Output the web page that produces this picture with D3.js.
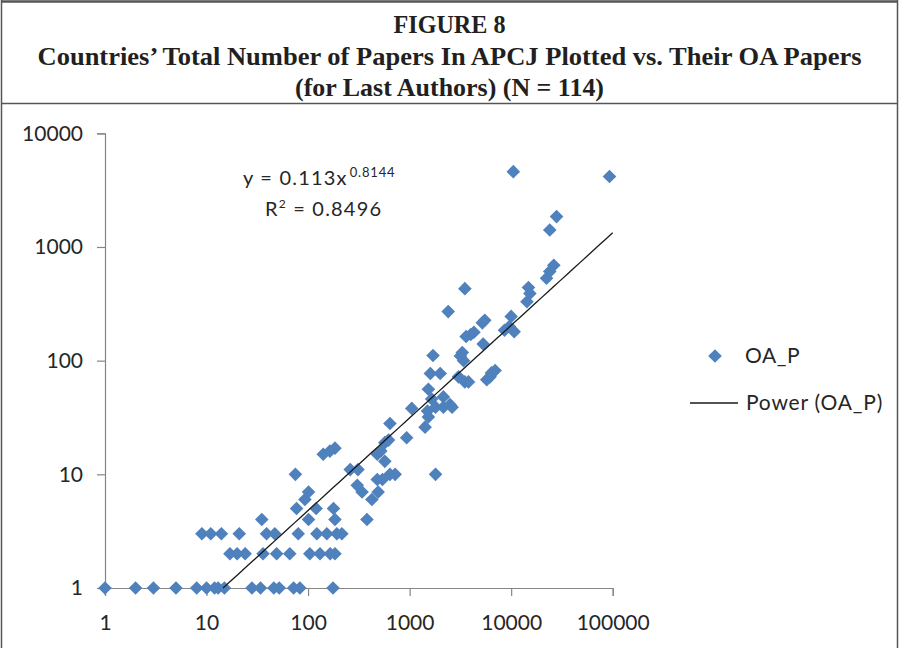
<!DOCTYPE html>
<html>
<head>
<meta charset="utf-8">
<script src="https://cdn.jsdelivr.net/npm/d3@7"></script>
<style>
  html, body { margin: 0; padding: 0; background: #fff; }
  svg { display: block; }
</style>
</head>
<body>
<svg id="chart" width="899" height="648"></svg>
<script>
// ---- data ----
const titleLines = ["FIGURE 8",
  "Countries\u2019 Total Number of Papers In APCJ Plotted vs. Their OA Papers",
  "(for Last Authors) (N = 114)"];

// total number of papers (x) per country
const totalPapers = [
  1, 2, 3, 5, 8, 10, 12, 13, 15, 28, 34, 46, 52, 72, 83, 176,
  17, 20, 24, 36, 49, 66, 104, 131, 165, 184,
  9, 11, 14, 21, 39, 47, 80, 122, 153, 192, 215,
  35, 101, 184, 380,
  77, 120, 178,
  93, 425,
  101, 340, 490,
  305,
  480, 540,
  75, 640, 720, 1800,
  260, 310,
  570,
  141, 164, 184, 480, 520,
  570, 620, 935,
  640, 1420,
  1530, 1050, 1800, 2150, 2500, 2620, 1500,
  2150, 1530, 1650,
  1600, 2000, 3030, 3500, 3800, 5750, 6950, 6400, 6200,
  1700, 3160, 3400, 3300,
  5300, 3600, 4300, 8600, 10700, 10000, 9600, 4000,
  5500, 5200,
  2400,
  14300, 15300, 14800, 3500,
  22300, 24000, 26300,
  24000, 28000,
  10500, 93000
];
// OA papers (y) per country
const oaPapers = [
  1, 1, 1, 1, 1, 1, 1, 1, 1, 1, 1, 1, 1, 1, 1, 1,
  2, 2, 2, 2, 2, 2, 2, 2, 2, 2,
  3, 3, 3, 3, 3, 3, 3, 3, 3, 3, 3,
  4, 4, 4, 4,
  5, 5, 5,
  6, 6,
  7, 7, 7,
  8,
  9, 9,
  10, 10, 10, 10,
  11, 11,
  13,
  15, 16, 17, 15, 16,
  19, 20, 21,
  28, 26,
  32, 38, 39, 39, 41, 39, 36,
  48, 56, 46,
  77, 77, 72, 65, 65, 68, 82, 78, 72,
  111, 110, 100, 118,
  140, 163, 178, 185, 180, 245, 200, 170,
  227, 215,
  270,
  330, 390, 440, 430,
  530, 610, 690,
  1410, 1850,
  4600, 4170
];

const xTicks = [1, 10, 100, 1000, 10000, 100000];
const yTicks = [1, 10, 100, 1000, 10000];
const trendCoef = [0.113, 0.8144];   // y = a * x^b
const rSquared = 0.8496;
const seriesName = "OA_P";
const trendName = "Power (OA_P)";

// ---- drawing ----
const svg = d3.select("#chart");
const blue = "#4F81BD";
const axisGray = "#868686";

// frame
svg.append("rect").attr("x", 0).attr("y", 0).attr("width", 899).attr("height", 648).attr("fill", "#fff");
svg.append("line").attr("x1", 1).attr("x2", 898).attr("y1", 1.5).attr("y2", 1.5)
  .attr("stroke", "#555").attr("stroke-width", 2.5);
svg.append("line").attr("x1", 1.5).attr("x2", 1.5).attr("y1", 0).attr("y2", 648)
  .attr("stroke", "#555").attr("stroke-width", 1.5);
svg.append("line").attr("x1", 897.5).attr("x2", 897.5).attr("y1", 0).attr("y2", 648)
  .attr("stroke", "#555").attr("stroke-width", 1.5);
svg.append("line").attr("x1", 1).attr("x2", 898).attr("y1", 103.5).attr("y2", 103.5)
  .attr("stroke", "#555").attr("stroke-width", 1.5);

// title
const titleY = [33, 65, 96];
const titleW = [112, 824, 309];
titleLines.forEach((t, i) => {
  svg.append("text")
    .attr("x", 449.5).attr("y", titleY[i])
    .attr("text-anchor", "middle")
    .attr("font-family", "'Liberation Serif', 'Times New Roman', serif")
    .attr("font-weight", "bold")
    .attr("font-size", 25)
    .attr("textLength", titleW[i])
    .attr("lengthAdjust", "spacingAndGlyphs")
    .attr("fill", "#231f20")
    .text(t);
});

const x = d3.scaleLog().domain([1, 100000]).range([105, 612.7]);
const y = d3.scaleLog().domain([1, 10000]).range([588, 133.3]);

const fontFam = "Lato, 'Open Sans', sans-serif";
const textCol = "#262626";

// axes
const yAxis = svg.append("g").attr("transform", "translate(105,0)")
  .call(d3.axisLeft(y).tickValues(yTicks).tickFormat(d3.format("d")).tickSize(8).tickPadding(14));
const xAxis = svg.append("g").attr("transform", "translate(0,588)")
  .call(d3.axisBottom(x).tickValues(xTicks).tickFormat(d3.format("d")).tickSize(8).tickPadding(19));
[xAxis, yAxis].forEach(g => {
  g.select(".domain").attr("stroke", axisGray).attr("stroke-width", 1.2);
  g.selectAll(".tick line").attr("stroke", axisGray).attr("stroke-width", 1.2);
  g.selectAll(".tick text").attr("font-family", fontFam).attr("font-size", 21).attr("fill", textCol);
});

// points
const points = totalPapers.map((v, i) => ({ tp: v, oa: oaPapers[i] }));
const diamond = d3.symbol().type(d3.symbolDiamond2).size(118);
svg.append("g").selectAll("path").data(points).join("path")
  .attr("d", diamond)
  .attr("transform", d => `translate(${x(d.tp)},${y(d.oa)})`)
  .attr("fill", blue);

// trend line (power fit), clipped at y axis minimum
const [a, b] = trendCoef;
const xStart = Math.pow(1 / a, 1 / b);
const trendX = d3.range(0, 61).map(i => xStart * Math.pow(100000 / xStart, i / 60));
svg.append("path")
  .datum(trendX)
  .attr("d", d3.line().x(d => x(d)).y(d => y(a * Math.pow(d, b))))
  .attr("fill", "none")
  .attr("stroke", "#1a1a1a")
  .attr("stroke-width", 1.3);

// equation text
const eq = svg.append("text").attr("x", 243).attr("y", 185)
  .attr("font-family", fontFam).attr("font-size", 20).attr("letter-spacing", 1.2).attr("fill", textCol);
eq.append("tspan").text(`y = ${a}x`);
eq.append("tspan").attr("dy", -8).attr("dx", 2).attr("font-size", 13).attr("letter-spacing", 0.8).text(`${b}`);
const r2 = svg.append("text").attr("x", 265).attr("y", 216)
  .attr("font-family", fontFam).attr("font-size", 20).attr("letter-spacing", 1.2).attr("fill", textCol);
r2.append("tspan").text("R");
r2.append("tspan").attr("dy", -8).attr("font-size", 12).text("2");
r2.append("tspan").attr("dy", 8).text(` = ${rSquared}`);

// legend
svg.append("path").attr("d", diamond).attr("transform", "translate(715,356)").attr("fill", blue);
svg.append("text").attr("x", 745).attr("y", 363)
  .attr("font-family", fontFam).attr("font-size", 21).attr("letter-spacing", 0.6).attr("fill", textCol).text(seriesName);
svg.append("line").attr("x1", 690).attr("x2", 738).attr("y1", 403).attr("y2", 403)
  .attr("stroke", "#1a1a1a").attr("stroke-width", 1.3);
svg.append("text").attr("x", 746).attr("y", 410)
  .attr("font-family", fontFam).attr("font-size", 21).attr("letter-spacing", 0.8).attr("fill", textCol).text(trendName);
</script>
</body>
</html>
